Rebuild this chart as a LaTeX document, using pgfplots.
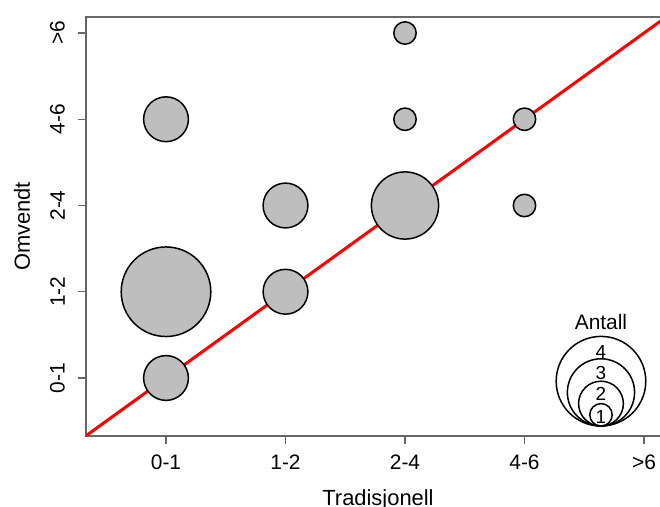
\documentclass[border=0pt]{standalone}
\usepackage{pgfplots}
\pgfplotsset{compat=1.18}
\usepackage{fontspec}
\setmainfont{Liberation Sans}
\definecolor{bub}{HTML}{BEBEBE}
\begin{document}
\begin{tikzpicture}
\begin{axis}[
  at={(0,0)}, anchor=south west,
  scale only axis, width=584bp, height=419bp,
  xmin=0.3305, xmax=5.2176, ymin=0.3275, ymax=5.1855,
  xtick={1,2,3,4,5}, xticklabels={0-1,1-2,2-4,4-6,>6},
  ytick={1,2,3,4,5}, yticklabels={0-1,1-2,2-4,4-6,>6},
  xtick pos=bottom, ytick pos=left,
  tick align=outside, major tick length=8bp,
  axis line style={black!60, line width=1.2bp},
  major tick style={black!60, line width=1.2bp},
  xticklabel style={font=\fontsize{21}{21}\selectfont, inner sep=0pt, anchor=north, yshift=-11bp},
  yticklabel style={font=\fontsize{21}{21}\selectfont, inner sep=0pt, xshift=-13bp, rotate=90, anchor=south},
  xlabel={Tradisjonell},
  ylabel={Omvendt},
  every axis x label/.style={at={(axis description cs:0.5,0)}, anchor=north, inner sep=0pt, yshift=-53bp, font=\fontsize{22}{22}\selectfont},
  every axis y label/.style={at={(axis description cs:0,0.5)}, anchor=center, inner sep=0pt, xshift=-64bp, rotate=90, font=\fontsize{22}{22}\selectfont},
]
% bubbles: radius proportional to count (11.2bp per unit)
\addplot[only marks, mark=*, mark size=44.8bp, mark options={fill=bub, draw=black, line width=1.5bp}] coordinates {(1,2)};
\addplot[only marks, mark=*, mark size=33.6bp, mark options={fill=bub, draw=black, line width=1.5bp}] coordinates {(3,3)};
\addplot[only marks, mark=*, mark size=22.4bp, mark options={fill=bub, draw=black, line width=1.5bp}] coordinates {(1,1) (1,4) (2,2) (2,3)};
\addplot[only marks, mark=*, mark size=11.2bp, mark options={fill=bub, draw=black, line width=1.5bp}] coordinates {(3,4) (3,5) (4,4) (4,3)};
% size legend circles
\addplot[only marks, mark=o, mark size=44.8bp, mark options={draw=black, line width=1.5bp}] coordinates {(4.640,0.9629)};
\addplot[only marks, mark=o, mark size=33.6bp, mark options={draw=black, line width=1.5bp}] coordinates {(4.640,0.8330)};
\addplot[only marks, mark=o, mark size=22.4bp, mark options={draw=black, line width=1.5bp}] coordinates {(4.640,0.7032)};
\addplot[only marks, mark=o, mark size=11.2bp, mark options={draw=black, line width=1.5bp}] coordinates {(4.640,0.5733)};
\node[font=\fontsize{21}{21}\selectfont, inner sep=0pt] at (axis cs:4.640,1.649) {Antall};
\node[font=\fontsize{19}{19}\selectfont, inner sep=0pt] at (axis cs:4.640,1.3014) {4};
\node[font=\fontsize{19}{19}\selectfont, inner sep=0pt] at (axis cs:4.640,1.058) {3};
\node[font=\fontsize{19}{19}\selectfont, inner sep=0pt] at (axis cs:4.640,0.8145) {2};
\node[font=\fontsize{19}{19}\selectfont, inner sep=0pt] at (axis cs:4.640,0.5478) {1};
% y = x reference line
\addplot[red, line width=3bp] coordinates {(0.3275,0.3275) (5.1855,5.1855)};
\end{axis}
\pgfresetboundingbox
\useasboundingbox (-86bp,-71bp) rectangle (574bp,436bp);
\end{tikzpicture}
\end{document}
